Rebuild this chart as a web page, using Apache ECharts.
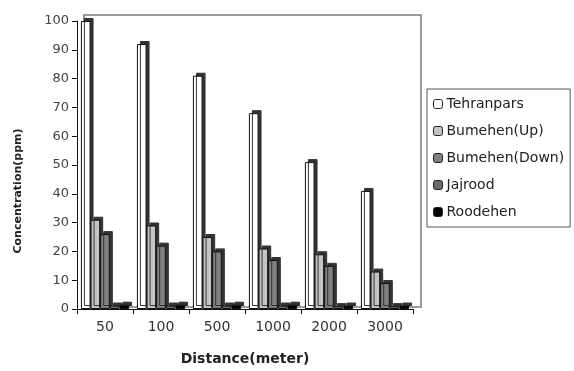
<!DOCTYPE html>
<html>
<head>
<meta charset="utf-8">
<script src="https://cdn.jsdelivr.net/npm/echarts@6/dist/echarts.min.js"></script>
<style>html,body{margin:0;padding:0;background:#fff;}#c{width:574px;height:371px;}</style>
</head>
<body>
<div id="c"></div>
<script>
var categories = ['50', '100', '500', '1000', '2000', '3000'];
var tehranpars = [100, 92, 81, 68, 51, 41];
var bumehenUp = [31, 29, 25, 21, 19, 13];
var bumehenDown = [26, 22, 20, 17, 15, 9];
var jajrood = [1.2, 1.2, 1.2, 1.2, 1.0, 1.0];
var roodehen = [1.5, 1.5, 1.5, 1.5, 1.2, 1.2];
var yTicks = [0, 10, 20, 30, 40, 50, 60, 70, 80, 90, 100];

var FONT = 'DejaVu Sans';
var chart = echarts.init(document.getElementById('c'), null, {renderer: 'canvas'});

function bar(name, data, color) {
  return {
    name: name, type: 'bar', data: data, xAxisIndex: 0, yAxisIndex: 0,
    barGap: '0%', barCategoryGap: '14%',
    itemStyle: {color: color, borderColor: '#111', borderWidth: 1,
      shadowColor: '#333', shadowOffsetX: 3, shadowOffsetY: -3, shadowBlur: 0},
    emphasis: {disabled: true}
  };
}

chart.setOption({
  animation: false,
  backgroundColor: '#fff',
  grid: [
    {left: 77, right: 161, top: 21, bottom: 60, containLabel: false},
    {left: 84, right: 153, top: 15, bottom: 64, show: true, borderColor: '#9a9a9a', borderWidth: 2, backgroundColor: 'rgba(0,0,0,0)', z: 0}
  ],
  xAxis: [
    {type: 'category', data: categories, gridIndex: 0,
     axisLine: {lineStyle: {color: '#111', width: 1}},
     axisTick: {show: true, length: 5, lineStyle: {color: '#111'}},
     axisLabel: {color: '#333', fontFamily: FONT, fontSize: 14, margin: 11},
     name: 'Distance(meter)', nameLocation: 'middle', nameGap: 43,
     nameTextStyle: {color: '#222', fontFamily: FONT, fontSize: 14, fontWeight: 'bold'}},
    {type: 'value', gridIndex: 1, show: false}
  ],
  yAxis: [
    {type: 'value', gridIndex: 0, min: 0, max: 100, interval: 10,
     axisLine: {show: true, lineStyle: {color: '#111', width: 1}},
     axisTick: {show: true, length: 5, lineStyle: {color: '#111'}},
     axisLabel: {color: '#444', fontFamily: FONT, fontSize: 13, margin: 8,
       formatter: function (v) { return yTicks.indexOf(v) >= 0 ? String(v) : ''; }},
     splitLine: {show: false}},
    {type: 'value', gridIndex: 1, show: false}
  ],
  legend: {
    orient: 'vertical', left: 427, top: 89,
    backgroundColor: '#fff', borderColor: '#555', borderWidth: 1,
    padding: [8, 6, 8, 6], itemGap: 13, itemWidth: 9, itemHeight: 9,
    textStyle: {fontFamily: FONT, fontSize: 14, color: '#222', padding: [0, 0, 0, -1]},
    itemStyle: {borderColor: '#222', borderWidth: 1, shadowOffsetX: 0, shadowOffsetY: 0},
    data: ['Tehranpars', 'Bumehen(Up)', 'Bumehen(Down)', 'Jajrood', 'Roodehen']
  },
  graphic: [
    {type: 'text', x: 18, y: 191, rotation: Math.PI / 2,
     style: {text: 'Concentration(ppm)', fontFamily: FONT, fontSize: 11, fontWeight: 'bold', fill: '#222',
       textAlign: 'center', textVerticalAlign: 'middle'}}
  ],
  series: [
    bar('Tehranpars', tehranpars, '#ffffff'),
    bar('Bumehen(Up)', bumehenUp, '#c4c4c4'),
    bar('Bumehen(Down)', bumehenDown, '#7f7f7f'),
    bar('Jajrood', jajrood, '#6a6a6a'),
    bar('Roodehen', roodehen, '#000000')
  ]
});
</script>
</body>
</html>
